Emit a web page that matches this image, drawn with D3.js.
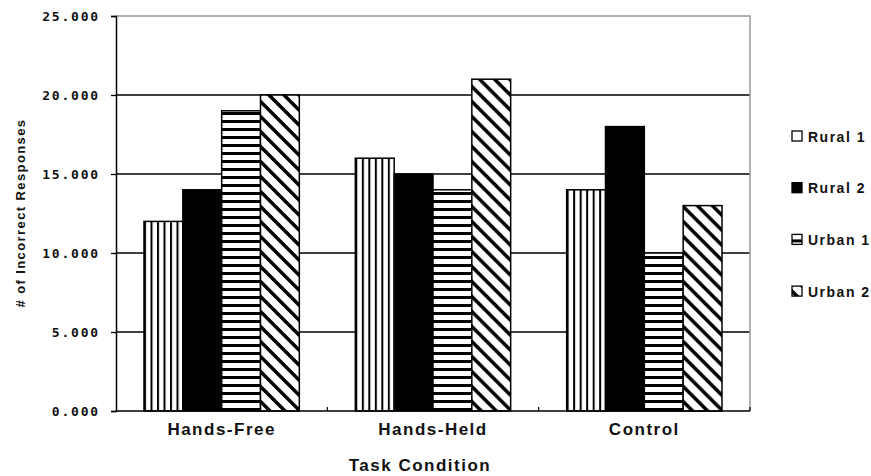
<!DOCTYPE html>
<html>
<head>
  <meta charset="UTF-8">
  <script src="https://d3js.org/d3.v7.min.js"></script>
  <style>
    body { margin: 0; background: #fff; }
    text { font-family: Arial, "Liberation Sans", sans-serif; font-weight: bold; fill: #111; }
  </style>
</head>
<body>
  <svg></svg>
<script>
  let width = 871,
    height = 476;

  // data
  let categories = ["Hands-Free", "Hands-Held", "Control"];
  let series = ["Rural 1", "Rural 2", "Urban 1", "Urban 2"];
  let rural1 = [12, 16, 14];
  let rural2 = [14, 15, 18];
  let urban1 = [19, 14, 10];
  let urban2 = [20, 21, 13];
  let yTicks = [0, 5, 10, 15, 20, 25];

  let values = [rural1, rural2, urban1, urban2];

  let margin = { left: 116, right: 121, top: 16, bottom: 65 };

  let svg = d3.select("svg")
    .attr("width", width)
    .attr("height", height);

  // hatch patterns
  let defs = svg.append("defs");
  let pv = defs.append("pattern").attr("id", "vert")
    .attr("patternUnits", "userSpaceOnUse").attr("width", 6.5).attr("height", 10);
  pv.append("rect").attr("width", 6.5).attr("height", 10).attr("fill", "#fff");
  pv.append("rect").attr("x", 0).attr("width", 2).attr("height", 10).attr("fill", "#000");

  let ph = defs.append("pattern").attr("id", "horiz")
    .attr("patternUnits", "userSpaceOnUse").attr("width", 10).attr("height", 8);
  ph.append("rect").attr("width", 10).attr("height", 8).attr("fill", "#fff");
  ph.append("rect").attr("y", 0).attr("width", 10).attr("height", 3).attr("fill", "#000");

  let pd = defs.append("pattern").attr("id", "diag")
    .attr("patternUnits", "userSpaceOnUse").attr("width", 15).attr("height", 15);
  pd.append("rect").attr("width", 15).attr("height", 15).attr("fill", "#fff");
  pd.append("path")
    .attr("d", "M-4,-4 L19,19 M-4,11 L4,19 M11,-4 L19,4")
    .attr("stroke", "#000").attr("stroke-width", 3.5);

  let fills = ["url(#vert)", "#000", "url(#horiz)", "url(#diag)"];
  let legendFills = ["#fff", "#000", "url(#horiz)", "url(#diag)"];

  let x0 = d3.scaleBand()
    .domain(categories)
    .range([margin.left, width - margin.right])
    .paddingInner(0.265)
    .paddingOuter(0.1325);

  let x1 = d3.scaleBand()
    .domain(series)
    .range([0, x0.bandwidth()]);

  let y = d3.scaleLinear()
    .domain([0, 25])
    .range([height - margin.bottom, margin.top]);

  let x0l = margin.left, x0r = width - margin.right;

  // grid lines
  svg.append("g")
    .selectAll("line")
    .data(yTicks.filter(d => d > 0 && d < 25))
    .enter()
    .append("line")
    .attr("x1", x0l).attr("x2", x0r)
    .attr("y1", d => y(d)).attr("y2", d => y(d))
    .attr("stroke", "#000").attr("stroke-width", 1.3);

  // frame top / right (grey)
  svg.append("path")
    .attr("d", "M" + x0l + "," + y(25) + "H" + x0r + "V" + y(0))
    .attr("fill", "none").attr("stroke", "#999").attr("stroke-width", 1.5);

  // bars
  let groups = svg.append("g")
    .selectAll("g")
    .data(categories)
    .enter()
    .append("g")
    .attr("transform", d => "translate(" + x0(d) + ",0)");

  groups.selectAll("rect")
    .data((c, i) => series.map((s, j) => ({ s: s, j: j, v: values[j][i] })))
    .enter()
    .append("rect")
    .attr("x", d => x1(d.s))
    .attr("width", x1.bandwidth())
    .attr("y", d => y(d.v))
    .attr("height", d => y(0) - y(d.v))
    .attr("fill", d => fills[d.j])
    .attr("stroke", "#000")
    .attr("stroke-width", 1.5);

  // y axis
  let yAxis = d3.axisLeft(y)
    .tickValues(yTicks)
    .tickSize(5)
    .tickPadding(11)
    .tickFormat(d3.format(".3f"));

  let ya = svg.append("g")
    .attr("transform", "translate(" + x0l + ",0)")
    .call(yAxis);
  ya.select(".domain").attr("stroke", "#000").attr("stroke-width", 1.5);
  ya.selectAll(".tick line").attr("stroke", "#000").attr("stroke-width", 1.3);
  ya.selectAll(".tick text")
    .style("font-size", "13px")
    .style("font-family", "'DejaVu Sans Mono', monospace")
    .style("letter-spacing", "1.8px");

  // x axis baseline
  svg.append("line")
    .attr("x1", x0l).attr("x2", x0r)
    .attr("y1", y(0)).attr("y2", y(0))
    .attr("stroke", "#000").attr("stroke-width", 1.5);

  // x band-boundary ticks
  let bounds = categories.map(c => x0(c) - x0.step() * 0.1325).concat([x0r]);
  svg.append("g")
    .selectAll("line")
    .data(bounds.slice(1))
    .enter()
    .append("line")
    .attr("x1", d => d).attr("x2", d => d)
    .attr("y1", y(0)).attr("y2", y(0) - 4)
    .attr("stroke", "#000").attr("stroke-width", 1.2);

  // category labels
  svg.append("g")
    .selectAll("text")
    .data(categories)
    .enter()
    .append("text")
    .attr("x", d => x0(d) + x0.bandwidth() / 2)
    .attr("y", 435)
    .attr("text-anchor", "middle")
    .style("font-size", "17px")
    .style("letter-spacing", "1.5px")
    .text(d => d);

  // axis titles
  svg.append("text")
    .attr("x", 420)
    .attr("y", 471)
    .attr("text-anchor", "middle")
    .style("font-size", "17px")
    .style("letter-spacing", "1.5px")
    .text("Task Condition");

  svg.append("text")
    .attr("transform", "translate(25,213) rotate(-90)")
    .attr("text-anchor", "middle")
    .style("font-size", "13px")
    .style("letter-spacing", "1.4px")
    .text("# of Incorrect Responses");

  // legend
  let legend = svg.append("g")
    .selectAll("g")
    .data(series)
    .enter()
    .append("g")
    .attr("transform", (d, i) => "translate(792," + (136 + i * 51.7) + ")");

  legend.append("rect")
    .attr("x", 0).attr("y", -5)
    .attr("width", 10).attr("height", 10)
    .attr("fill", (d, i) => legendFills[i])
    .attr("stroke", "#000").attr("stroke-width", 1.3);

  legend.append("text")
    .attr("x", 16)
    .attr("y", 5.5)
    .style("font-size", "14px")
    .style("letter-spacing", "1.5px")
    .text(d => d);
</script>
</body>
</html>
